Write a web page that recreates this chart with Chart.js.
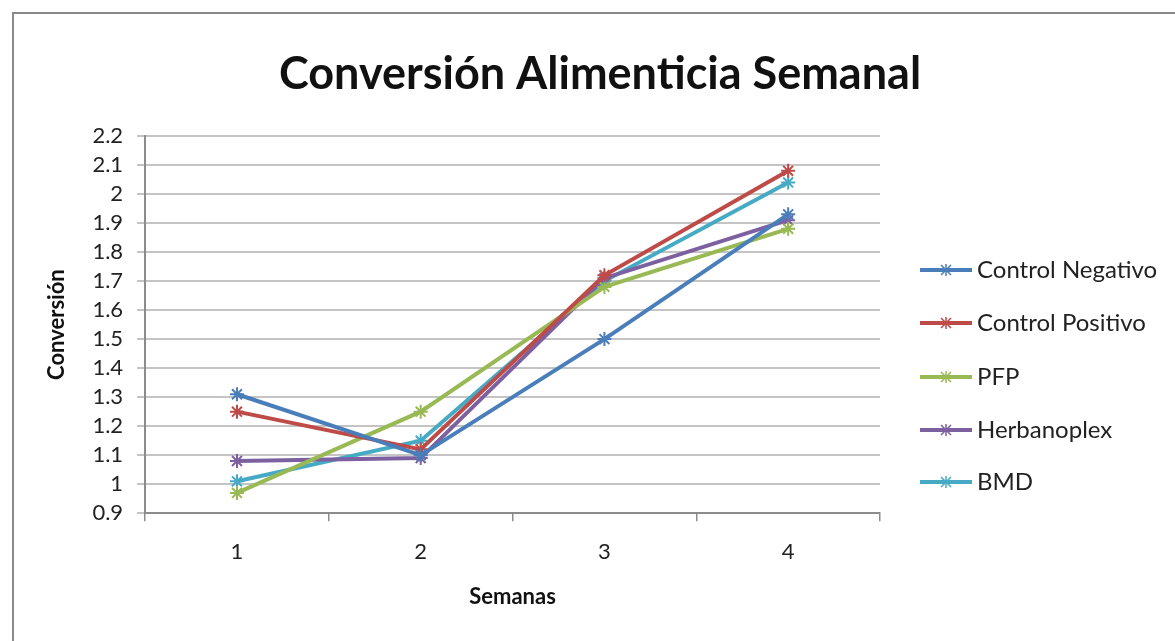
<!DOCTYPE html>
<html>
<head>
<meta charset="utf-8">
<script src="https://cdn.jsdelivr.net/npm/chart.js@4.4.0/dist/chart.umd.min.js"></script>
<style>
html,body{margin:0;padding:0;background:#fff;}
#frame{position:absolute;left:12px;top:12px;width:1175px;height:660px;border:2px solid #8a8a8a;box-sizing:border-box;}
#wrap{position:absolute;left:0;top:0;width:1175px;height:641px;}
</style>
</head>
<body>
<div id="frame"></div>
<div id="wrap"><canvas id="c" width="1175" height="641"></canvas></div>
<script>
const weeks = ["1", "2", "3", "4"];
const controlNegativo = [1.31, 1.10, 1.50, 1.93];
const controlPositivo = [1.25, 1.12, 1.72, 2.08];
const pfp = [0.97, 1.25, 1.68, 1.88];
const herbanoplex = [1.08, 1.09, 1.71, 1.91];
const bmd = [1.01, 1.15, 1.70, 2.04];
const seriesNames = ["Control Negativo", "Control Positivo", "PFP", "Herbanoplex", "BMD"];
const seriesColors = ["#4A7EBB", "#BE4B48", "#98B954", "#7D60A0", "#46AAC5"];
const seriesValues = [controlNegativo, controlPositivo, pfp, herbanoplex, bmd];
const yMin = 0.9, yMax = 2.2, yStep = 0.1;
const chartTitle = 'Conversión Alimenticia Semanal';

const FONT = "Lato, 'Open Sans', sans-serif";

const decorPlugin = {
  id: 'decor',
  afterDraw(chart) {
    const ctx = chart.ctx;
    ctx.save();
    ctx.fillStyle = '#111';
    ctx.font = "bold 45px " + FONT;
    ctx.textAlign = 'center';
    ctx.textBaseline = 'middle';
    ctx.fillText(chartTitle, 600, 74);
    const x0 = chart.chartArea.right + 40;
    const ys = [270, 323, 377, 430, 482];
    chart.data.datasets.forEach((ds, i) => {
      const y = ys[i];
      ctx.strokeStyle = ds.borderColor;
      ctx.lineWidth = 4;
      ctx.beginPath();
      ctx.moveTo(x0, y);
      ctx.lineTo(x0 + 52, y);
      ctx.stroke();
      const cx = x0 + 26, r = 5;
      ctx.lineWidth = 1.5;
      ctx.beginPath();
      ctx.moveTo(cx - r, y - r); ctx.lineTo(cx + r, y + r);
      ctx.moveTo(cx - r, y + r); ctx.lineTo(cx + r, y - r);
      ctx.moveTo(cx, y - r - 1); ctx.lineTo(cx, y + r + 1);
      ctx.stroke();
      ctx.fillStyle = '#222';
      ctx.font = "24px " + FONT;
      ctx.textBaseline = 'middle';
      ctx.textAlign = 'left';
      ctx.fillText(ds.label, x0 + 57, y);
    });
    ctx.restore();
  }
};

new Chart(document.getElementById('c'), {
  type: 'line',
  data: {
    labels: weeks,
    datasets: seriesNames.map((n, i) => ({
      label: n,
      data: seriesValues[i],
      borderColor: seriesColors[i],
      backgroundColor: seriesColors[i],
      borderWidth: 4,
      pointStyle: 'star',
      pointRadius: 7,
      pointBorderWidth: 2,
      pointHoverRadius: 7,
      tension: 0,
      fill: false
    }))
  },
  options: {
    responsive: false,
    animation: false,
    events: [],
    layout: { padding: { left: 40, right: 295, top: 136, bottom: 28 } },
    plugins: {
      legend: { display: false },
      tooltip: { enabled: false },
      title: { display: false }
    },
    scales: {
      x: {
        offset: true,
        grid: { display: true, drawOnChartArea: false, drawTicks: true, tickLength: 8, offset: true, color: '#8c8c8c', lineWidth: 1.5 },
        border: { display: true, color: '#8c8c8c', width: 2 },
        ticks: { color: '#222', font: { family: FONT, size: 22 }, padding: 18 },
        title: { display: true, text: 'Semanas', color: '#111', font: { family: FONT, size: 22, weight: 'bold' }, padding: { top: 0, bottom: 3 } }
      },
      y: {
        min: yMin, max: yMax,
        grid: { color: '#c4c4c4', lineWidth: 2, drawTicks: true, tickLength: 8 },
        border: { display: true, color: '#8c8c8c', width: 2 },
        ticks: {
          stepSize: yStep, autoSkip: false, color: '#222', font: { family: FONT, size: 22 }, padding: 14,
          callback: v => String(Number(v.toFixed(1)))
        },
        title: { display: true, text: 'Conversión', color: '#111', font: { family: FONT, size: 22, weight: 'bold' }, padding: { bottom: 8 } }
      }
    }
  },
  plugins: [decorPlugin]
});
</script>
</body>
</html>
